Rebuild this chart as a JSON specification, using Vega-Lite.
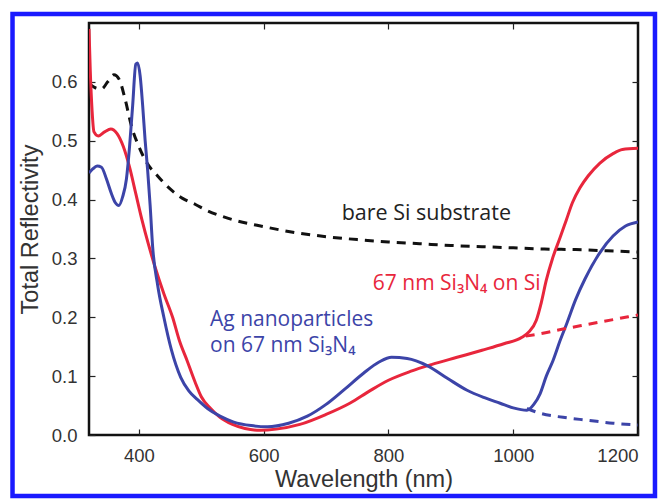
{
  "$schema": "https://vega.github.io/schema/vega-lite/v6.json",
  "width": 549,
  "height": 412,
  "autosize": "none",
  "padding": {"left": 89, "top": 23, "right": 21, "bottom": 64},
  "background": "white",
  "config": {
    "view": {"stroke": "#111", "strokeWidth": 2.5},
    "axis": {"labelFont": "Liberation Sans", "titleFont": "Liberation Sans", "labelColor": "#333", "titleColor": "#333", "labelFontSize": 18.5, "titleFontSize": 23.5, "titleFontWeight": "normal", "domain": false, "grid": false, "tickColor": "#222", "tickWidth": 1.2}
  },
  "datasets": {
    "spectra": [
      {"series": "bare", "kind": "measured", "wl": 320, "r": 0.598},
      {"series": "bare", "kind": "measured", "wl": 330, "r": 0.590},
      {"series": "bare", "kind": "measured", "wl": 340, "r": 0.588},
      {"series": "bare", "kind": "measured", "wl": 350, "r": 0.600},
      {"series": "bare", "kind": "measured", "wl": 360, "r": 0.612},
      {"series": "bare", "kind": "measured", "wl": 368, "r": 0.605},
      {"series": "bare", "kind": "measured", "wl": 378, "r": 0.570},
      {"series": "bare", "kind": "measured", "wl": 388, "r": 0.525},
      {"series": "bare", "kind": "measured", "wl": 400, "r": 0.490},
      {"series": "bare", "kind": "measured", "wl": 413, "r": 0.462},
      {"series": "bare", "kind": "measured", "wl": 430, "r": 0.440},
      {"series": "bare", "kind": "measured", "wl": 450, "r": 0.418},
      {"series": "bare", "kind": "measured", "wl": 470, "r": 0.402},
      {"series": "bare", "kind": "measured", "wl": 490, "r": 0.392},
      {"series": "bare", "kind": "measured", "wl": 510, "r": 0.381},
      {"series": "bare", "kind": "measured", "wl": 550, "r": 0.366},
      {"series": "bare", "kind": "measured", "wl": 600, "r": 0.354},
      {"series": "bare", "kind": "measured", "wl": 650, "r": 0.344},
      {"series": "bare", "kind": "measured", "wl": 700, "r": 0.337},
      {"series": "bare", "kind": "measured", "wl": 750, "r": 0.332},
      {"series": "bare", "kind": "measured", "wl": 800, "r": 0.328},
      {"series": "bare", "kind": "measured", "wl": 850, "r": 0.325},
      {"series": "bare", "kind": "measured", "wl": 900, "r": 0.322},
      {"series": "bare", "kind": "measured", "wl": 950, "r": 0.320},
      {"series": "bare", "kind": "measured", "wl": 1000, "r": 0.318},
      {"series": "bare", "kind": "measured", "wl": 1050, "r": 0.316},
      {"series": "bare", "kind": "measured", "wl": 1100, "r": 0.315},
      {"series": "bare", "kind": "measured", "wl": 1150, "r": 0.313},
      {"series": "bare", "kind": "measured", "wl": 1200, "r": 0.311},

      {"series": "film", "kind": "measured", "wl": 320, "r": 0.690},
      {"series": "film", "kind": "measured", "wl": 322, "r": 0.620},
      {"series": "film", "kind": "measured", "wl": 325, "r": 0.550},
      {"series": "film", "kind": "measured", "wl": 328, "r": 0.515},
      {"series": "film", "kind": "measured", "wl": 335, "r": 0.508},
      {"series": "film", "kind": "measured", "wl": 345, "r": 0.515},
      {"series": "film", "kind": "measured", "wl": 355, "r": 0.520},
      {"series": "film", "kind": "measured", "wl": 365, "r": 0.512},
      {"series": "film", "kind": "measured", "wl": 375, "r": 0.490},
      {"series": "film", "kind": "measured", "wl": 385, "r": 0.455},
      {"series": "film", "kind": "measured", "wl": 395, "r": 0.410},
      {"series": "film", "kind": "measured", "wl": 405, "r": 0.365},
      {"series": "film", "kind": "measured", "wl": 415, "r": 0.325},
      {"series": "film", "kind": "measured", "wl": 426, "r": 0.285},
      {"series": "film", "kind": "measured", "wl": 440, "r": 0.240},
      {"series": "film", "kind": "measured", "wl": 454, "r": 0.200},
      {"series": "film", "kind": "measured", "wl": 465, "r": 0.160},
      {"series": "film", "kind": "measured", "wl": 477, "r": 0.127},
      {"series": "film", "kind": "measured", "wl": 490, "r": 0.090},
      {"series": "film", "kind": "measured", "wl": 500, "r": 0.065},
      {"series": "film", "kind": "measured", "wl": 515, "r": 0.045},
      {"series": "film", "kind": "measured", "wl": 530, "r": 0.030},
      {"series": "film", "kind": "measured", "wl": 550, "r": 0.018},
      {"series": "film", "kind": "measured", "wl": 570, "r": 0.011},
      {"series": "film", "kind": "measured", "wl": 594, "r": 0.008},
      {"series": "film", "kind": "measured", "wl": 620, "r": 0.010},
      {"series": "film", "kind": "measured", "wl": 658, "r": 0.018},
      {"series": "film", "kind": "measured", "wl": 700, "r": 0.035},
      {"series": "film", "kind": "measured", "wl": 738, "r": 0.054},
      {"series": "film", "kind": "measured", "wl": 770, "r": 0.075},
      {"series": "film", "kind": "measured", "wl": 800, "r": 0.093},
      {"series": "film", "kind": "measured", "wl": 835, "r": 0.108},
      {"series": "film", "kind": "measured", "wl": 870, "r": 0.120},
      {"series": "film", "kind": "measured", "wl": 910, "r": 0.132},
      {"series": "film", "kind": "measured", "wl": 950, "r": 0.144},
      {"series": "film", "kind": "measured", "wl": 985, "r": 0.155},
      {"series": "film", "kind": "measured", "wl": 1014, "r": 0.166},
      {"series": "film", "kind": "measured", "wl": 1025, "r": 0.175},
      {"series": "film", "kind": "measured", "wl": 1037, "r": 0.195},
      {"series": "film", "kind": "measured", "wl": 1045, "r": 0.225},
      {"series": "film", "kind": "measured", "wl": 1053, "r": 0.263},
      {"series": "film", "kind": "measured", "wl": 1063, "r": 0.300},
      {"series": "film", "kind": "measured", "wl": 1075, "r": 0.335},
      {"series": "film", "kind": "measured", "wl": 1085, "r": 0.365},
      {"series": "film", "kind": "measured", "wl": 1095, "r": 0.395},
      {"series": "film", "kind": "measured", "wl": 1107, "r": 0.420},
      {"series": "film", "kind": "measured", "wl": 1120, "r": 0.440},
      {"series": "film", "kind": "measured", "wl": 1139, "r": 0.462},
      {"series": "film", "kind": "measured", "wl": 1160, "r": 0.478},
      {"series": "film", "kind": "measured", "wl": 1175, "r": 0.485},
      {"series": "film", "kind": "measured", "wl": 1200, "r": 0.487},

      {"series": "film", "kind": "extrapolated", "wl": 1020, "r": 0.168},
      {"series": "film", "kind": "extrapolated", "wl": 1043, "r": 0.172},
      {"series": "film", "kind": "extrapolated", "wl": 1080, "r": 0.180},
      {"series": "film", "kind": "extrapolated", "wl": 1120, "r": 0.188},
      {"series": "film", "kind": "extrapolated", "wl": 1160, "r": 0.196},
      {"series": "film", "kind": "extrapolated", "wl": 1200, "r": 0.204},

      {"series": "ag", "kind": "measured", "wl": 320, "r": 0.445},
      {"series": "ag", "kind": "measured", "wl": 326, "r": 0.452},
      {"series": "ag", "kind": "measured", "wl": 333, "r": 0.457},
      {"series": "ag", "kind": "measured", "wl": 340, "r": 0.455},
      {"series": "ag", "kind": "measured", "wl": 348, "r": 0.435},
      {"series": "ag", "kind": "measured", "wl": 356, "r": 0.410},
      {"series": "ag", "kind": "measured", "wl": 362, "r": 0.395},
      {"series": "ag", "kind": "measured", "wl": 368, "r": 0.390},
      {"series": "ag", "kind": "measured", "wl": 374, "r": 0.405},
      {"series": "ag", "kind": "measured", "wl": 380, "r": 0.435},
      {"series": "ag", "kind": "measured", "wl": 385, "r": 0.490},
      {"series": "ag", "kind": "measured", "wl": 390, "r": 0.560},
      {"series": "ag", "kind": "measured", "wl": 395, "r": 0.630},
      {"series": "ag", "kind": "measured", "wl": 398, "r": 0.632},
      {"series": "ag", "kind": "measured", "wl": 402, "r": 0.610},
      {"series": "ag", "kind": "measured", "wl": 406, "r": 0.560},
      {"series": "ag", "kind": "measured", "wl": 410, "r": 0.500},
      {"series": "ag", "kind": "measured", "wl": 414, "r": 0.450},
      {"series": "ag", "kind": "measured", "wl": 418, "r": 0.390},
      {"series": "ag", "kind": "measured", "wl": 422, "r": 0.320},
      {"series": "ag", "kind": "measured", "wl": 430, "r": 0.255},
      {"series": "ag", "kind": "measured", "wl": 440, "r": 0.200},
      {"series": "ag", "kind": "measured", "wl": 452, "r": 0.145},
      {"series": "ag", "kind": "measured", "wl": 467, "r": 0.098},
      {"series": "ag", "kind": "measured", "wl": 480, "r": 0.075},
      {"series": "ag", "kind": "measured", "wl": 494, "r": 0.060},
      {"series": "ag", "kind": "measured", "wl": 510, "r": 0.045},
      {"series": "ag", "kind": "measured", "wl": 530, "r": 0.032},
      {"series": "ag", "kind": "measured", "wl": 552, "r": 0.022},
      {"series": "ag", "kind": "measured", "wl": 580, "r": 0.016},
      {"series": "ag", "kind": "measured", "wl": 606, "r": 0.014},
      {"series": "ag", "kind": "measured", "wl": 640, "r": 0.020},
      {"series": "ag", "kind": "measured", "wl": 670, "r": 0.032},
      {"series": "ag", "kind": "measured", "wl": 700, "r": 0.052},
      {"series": "ag", "kind": "measured", "wl": 730, "r": 0.078},
      {"series": "ag", "kind": "measured", "wl": 760, "r": 0.105},
      {"series": "ag", "kind": "measured", "wl": 785, "r": 0.124},
      {"series": "ag", "kind": "measured", "wl": 805, "r": 0.132},
      {"series": "ag", "kind": "measured", "wl": 830, "r": 0.130},
      {"series": "ag", "kind": "measured", "wl": 862, "r": 0.118},
      {"series": "ag", "kind": "measured", "wl": 895, "r": 0.096},
      {"series": "ag", "kind": "measured", "wl": 926, "r": 0.076},
      {"series": "ag", "kind": "measured", "wl": 955, "r": 0.063},
      {"series": "ag", "kind": "measured", "wl": 979, "r": 0.054},
      {"series": "ag", "kind": "measured", "wl": 1000, "r": 0.046},
      {"series": "ag", "kind": "measured", "wl": 1022, "r": 0.042},
      {"series": "ag", "kind": "measured", "wl": 1033, "r": 0.052},
      {"series": "ag", "kind": "measured", "wl": 1043, "r": 0.070},
      {"series": "ag", "kind": "measured", "wl": 1053, "r": 0.100},
      {"series": "ag", "kind": "measured", "wl": 1064, "r": 0.127},
      {"series": "ag", "kind": "measured", "wl": 1075, "r": 0.160},
      {"series": "ag", "kind": "measured", "wl": 1086, "r": 0.190},
      {"series": "ag", "kind": "measured", "wl": 1100, "r": 0.230},
      {"series": "ag", "kind": "measured", "wl": 1115, "r": 0.265},
      {"series": "ag", "kind": "measured", "wl": 1139, "r": 0.310},
      {"series": "ag", "kind": "measured", "wl": 1160, "r": 0.338},
      {"series": "ag", "kind": "measured", "wl": 1180, "r": 0.355},
      {"series": "ag", "kind": "measured", "wl": 1200, "r": 0.362},

      {"series": "ag", "kind": "extrapolated", "wl": 1022, "r": 0.045},
      {"series": "ag", "kind": "extrapolated", "wl": 1043, "r": 0.037},
      {"series": "ag", "kind": "extrapolated", "wl": 1080, "r": 0.030},
      {"series": "ag", "kind": "extrapolated", "wl": 1120, "r": 0.025},
      {"series": "ag", "kind": "extrapolated", "wl": 1160, "r": 0.020},
      {"series": "ag", "kind": "extrapolated", "wl": 1200, "r": 0.017}
    ],
    "one": [{}]
  },
  "resolve": {"axis": {"x": "independent", "y": "independent"}},
  "layer": [
    {
      "data": {"name": "spectra"},
      "transform": [{"filter": "datum.series === 'bare'"}],
      "mark": {"type": "line", "color": "#111", "strokeWidth": 3, "strokeDash": [9, 7], "interpolate": "monotone", "clip": true},
      "encoding": {
        "x": {"field": "wl", "type": "quantitative", "scale": {"domain": [320, 1200], "nice": false, "zero": false},
          "axis": {"orient": "bottom", "title": "Wavelength (nm)", "values": [400, 600, 800, 1000, 1200], "format": "d", "tickSize": -6, "labelPadding": 17, "titlePadding": 3}},
        "y": {"field": "r", "type": "quantitative", "scale": {"domain": [0, 0.7], "nice": false},
          "axis": {"orient": "left", "title": "Total Reflectivity", "values": [0, 0.1, 0.2, 0.3, 0.4, 0.5, 0.6], "format": ".1f", "tickSize": -6, "labelPadding": 18, "titlePadding": 9}}
      }
    },
    {
      "data": {"name": "spectra"},
      "transform": [{"filter": "datum.series !== 'bare' && datum.kind === 'measured'"}],
      "mark": {"type": "line", "strokeWidth": 3, "interpolate": "monotone", "clip": true},
      "encoding": {
        "x": {"field": "wl", "type": "quantitative", "axis": {"orient": "top", "title": null, "labels": false, "values": [400, 600, 800, 1000], "tickSize": -6}},
        "y": {"field": "r", "type": "quantitative", "axis": {"orient": "right", "title": null, "labels": false, "values": [0.1, 0.2, 0.3, 0.4, 0.5, 0.6], "tickSize": -6}},
        "color": {"field": "series", "type": "nominal", "scale": {"domain": ["film", "ag"], "range": ["#e8263c", "#3c44a8"]}, "legend": null},
        "detail": {"field": "series"}
      }
    },
    {
      "data": {"name": "spectra"},
      "transform": [{"filter": "datum.kind === 'extrapolated'"}],
      "mark": {"type": "line", "strokeWidth": 3, "strokeDash": [9, 7], "interpolate": "monotone", "clip": true},
      "encoding": {
        "x": {"field": "wl", "type": "quantitative", "axis": null},
        "y": {"field": "r", "type": "quantitative", "axis": null},
        "color": {"field": "series", "type": "nominal", "legend": null},
        "detail": {"field": "series"}
      }
    },
    {
      "data": {"name": "one"},
      "mark": {"type": "text", "text": "bare Si substrate", "align": "left", "baseline": "alphabetic", "font": "Open Sans", "fontWeight": "normal", "fontSize": 21.5, "color": "#222"},
      "encoding": {"x": {"datum": 725, "type": "quantitative", "axis": null}, "y": {"datum": 0.365, "type": "quantitative", "axis": null}}
    },
    {
      "data": {"name": "one"},
      "mark": {"type": "text", "text": "67 nm Si₃N₄ on Si", "align": "left", "baseline": "alphabetic", "font": "Open Sans", "fontWeight": "normal", "fontSize": 21, "color": "#e8263c"},
      "encoding": {"x": {"datum": 775, "type": "quantitative", "axis": null}, "y": {"datum": 0.246, "type": "quantitative", "axis": null}}
    },
    {
      "data": {"name": "one"},
      "mark": {"type": "text", "text": "Ag nanoparticles", "align": "left", "baseline": "alphabetic", "font": "Open Sans", "fontWeight": "normal", "fontSize": 21, "color": "#3c44a8"},
      "encoding": {"x": {"datum": 514, "type": "quantitative", "axis": null}, "y": {"datum": 0.186, "type": "quantitative", "axis": null}}
    },
    {
      "data": {"name": "one"},
      "mark": {"type": "text", "text": "on 67 nm Si₃N₄", "align": "left", "baseline": "alphabetic", "font": "Open Sans", "fontWeight": "normal", "fontSize": 21, "color": "#3c44a8"},
      "encoding": {"x": {"datum": 514, "type": "quantitative", "axis": null}, "y": {"datum": 0.141, "type": "quantitative", "axis": null}}
    },
    {
      "data": {"name": "one"},
      "mark": {"type": "rect", "fill": null, "fillOpacity": 0, "stroke": "#1a1aff", "strokeWidth": 4.5, "clip": false},
      "encoding": {
        "x": {"datum": 197.4, "type": "quantitative", "axis": null},
        "x2": {"datum": 1227.2},
        "y": {"datum": 0.7153, "type": "quantitative", "axis": null},
        "y2": {"datum": -0.1036}
      }
    }
  ]
}
